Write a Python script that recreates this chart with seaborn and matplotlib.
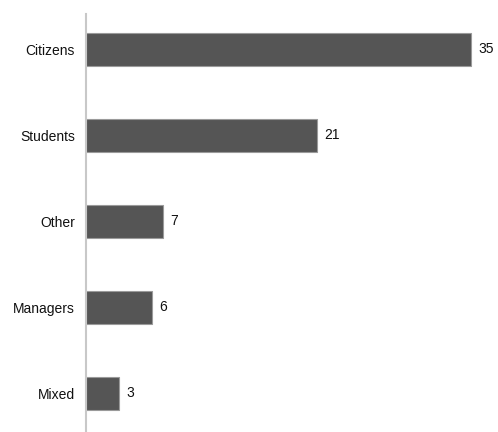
import matplotlib
matplotlib.use("Agg")
import matplotlib.pyplot as plt
import seaborn as sns
import pandas as pd

categories = ["Citizens", "Students", "Other", "Managers", "Mixed"]
values = [35, 21, 7, 6, 3]

sns.set_style("white")
plt.rcParams['font.family'] = ['Liberation Sans', 'DejaVu Sans']

df = pd.DataFrame({"category": categories, "value": values})

fig = plt.figure(figsize=(4.98, 4.32), dpi=100)
ax = fig.add_axes([86/498, 0, 1 - 86/498, 418/432])
sns.barplot(data=df, x="value", y="category", orient="h", color="#555555",
            saturation=1, width=0.385, edgecolor="#9a9a9a", linewidth=0.8, ax=ax)

ax.set_xlim(0, 37.45)
ax.set_ylim(4.45, -0.41)
for s in ["top", "right", "bottom"]:
    ax.spines[s].set_visible(False)
ax.spines["left"].set_color("#c8c8c8")
ax.spines["left"].set_linewidth(1.5)
ax.set_xticks([])
ax.set_xlabel("")
ax.set_ylabel("")
ax.tick_params(axis="y", length=0, pad=8, labelsize=10, labelcolor="#111111")

for i, v in enumerate(values):
    ax.annotate(str(v), xy=(v, i), xytext=(5.5, 0), textcoords="offset points",
                va="center", ha="left", fontsize=10, color="#111111")

fig.savefig("out.png", dpi=100)
